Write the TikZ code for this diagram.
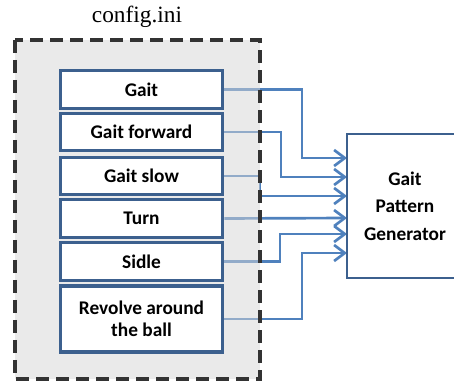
\documentclass[tikz,border=0pt]{standalone}
\usepackage{fontspec}
\setmainfont{Liberation Serif}
\newfontfamily\boxfont{Carlito}
\usetikzlibrary{arrows.meta,backgrounds}
\definecolor{box_blue}{RGB}{60, 96, 142}
\definecolor{line_blue}{RGB}{79, 129, 189}
\definecolor{cfg_grey}{RGB}{214, 214, 214}
\tikzstyle{opt}=[rectangle,draw=box_blue,fill=white,
  line width=2.4pt,inner sep=2pt,minimum width=122pt,minimum height=28pt,
  align=center,font=\boxfont\bfseries\fontsize{14.5}{16.5}\selectfont]
\tikzstyle{gen}=[rectangle,draw=box_blue,fill=white,
  line width=2.2pt,minimum width=87pt,minimum height=108pt,
  align=center,font=\boxfont\bfseries\fontsize{14.5}{20.6}\selectfont]
\tikzstyle{conn}=[draw=line_blue,line width=2pt,
  -{Straight Barb[length=8pt,width=12pt]}]
\begin{document}
\begin{tikzpicture}[x=0.75pt,y=-0.75pt]
        \useasboundingbox (0,0) rectangle (454,381);
        \node [font=\fontsize{17.5}{20}\selectfont,anchor=base] (cfg) at (137,23) {config.ini};
        \node [style=opt] (gait) at (141.5,89.5) {Gait};
        \node [style=opt] (gf) at (141.5,132) {Gait forward};
        \node [style=opt] (gs) at (141.5,176) {Gait slow};
        \node [style=opt] (turn) at (141.5,218.5) {Turn};
        \node [style=opt] (sidle) at (141.5,261.5) {Sidle};
        \node [style=opt,minimum height=49.5pt] (rev) at (141.5,319) {Revolve around\\the ball};
        \node [style=gen] (gpg) at (405,206) {Gait\\Pattern\\Generator};
        \coordinate (in1) at (347,158);
        \coordinate (in2) at (347,177);
        \coordinate (in3) at (347,196);
        \coordinate (in4) at (347,218);
        \coordinate (in5) at (347,234);
        \coordinate (in6) at (347,253);
        \begin{pgfonlayer}{background}
        \draw [style=conn] (gait.east) -| (302,158) -- (in1);
        \draw [style=conn] (gf.east) -| (281,177) -- (in2);
        \draw [style=conn] (gs.east) -| (260,196) -- (in3);
        \draw [style=conn] (turn.east) -- (in4);
        \draw [style=conn] (sidle.east) -| (280,234) -- (in5);
        \draw [style=conn] (rev.east) -| (302,253) -- (in6);
        \fill [cfg_grey,fill opacity=0.5] (15,40) rectangle (260,379);
        \draw [black!80,line width=2.6pt,dash pattern=on 10pt off 5pt] (15,40) rectangle (260,379);
        \end{pgfonlayer}
    \end{tikzpicture}
\end{document}
